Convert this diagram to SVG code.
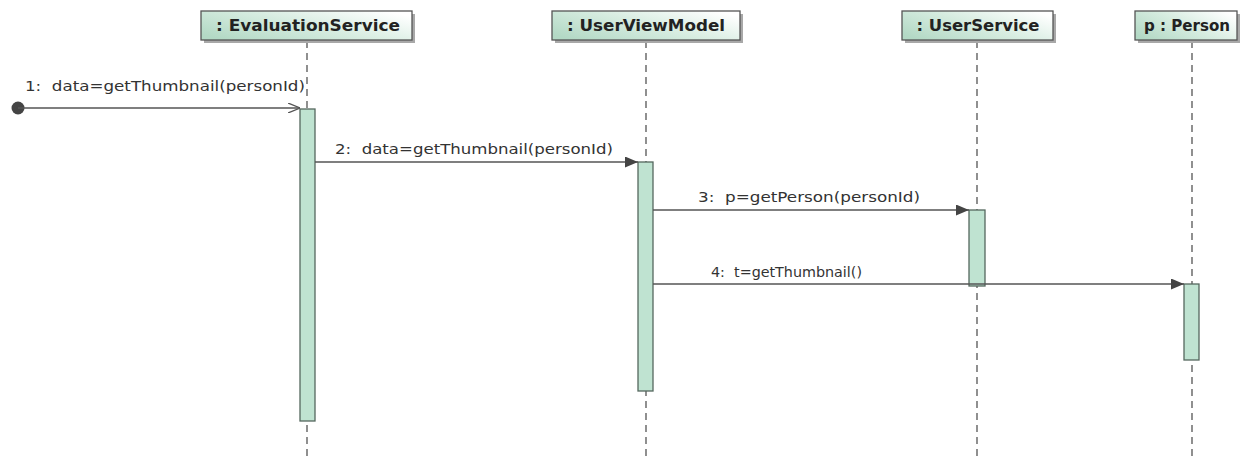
<svg xmlns="http://www.w3.org/2000/svg" width="1254" height="460" viewBox="0 0 1254 460">
  <style>
    .head { stroke: #555; stroke-width: 1.3; fill: url(#headFill); }
    .shadow { fill: #a8a8a8; }
    .headText { font-family: "DejaVu Sans", Verdana, sans-serif; font-weight: bold; font-size: 16px; fill: #222; text-anchor: middle; }
    .life { stroke: #555; stroke-width: 1.3; stroke-dasharray: 7 5; fill: none; }
    .act { fill: #bfe3d1; stroke: #55685e; stroke-width: 1.3; }
    .msg { stroke: #555; stroke-width: 1.4; fill: none; }
    .label { font-family: "DejaVu Sans", Verdana, sans-serif; font-size: 14.5px; fill: #333; }
  </style>
  <defs>
    <linearGradient id="headFill" x1="0" y1="0.8" x2="1" y2="0.2">
      <stop offset="0" stop-color="#b3d9c5"/>
      <stop offset="0.5" stop-color="#d6ece0"/>
      <stop offset="1" stop-color="#ffffff"/>
    </linearGradient>
    <marker id="filled" viewBox="0 0 13 11" refX="13" refY="5.5" markerWidth="13" markerHeight="11" markerUnits="userSpaceOnUse" orient="auto">
      <path d="M0,0 L13,5.5 L0,11 Z" fill="#444"/>
    </marker>
    <marker id="open" viewBox="0 0 12 10" refX="12" refY="5" markerWidth="12" markerHeight="10" markerUnits="userSpaceOnUse" orient="auto">
      <path d="M0,0 L12,5 L0,10" fill="none" stroke="#555" stroke-width="1.3"/>
    </marker>
  </defs>

  <rect width="1254" height="460" fill="#ffffff"/>

  <!-- lifelines -->
  <g id="lifelines">
    <line class="life" x1="307" y1="41" x2="307" y2="460"/>
    <line class="life" x1="646" y1="41" x2="646" y2="460"/>
    <line class="life" x1="977" y1="41" x2="977" y2="460"/>
    <line class="life" x1="1192" y1="41" x2="1192" y2="460"/>
  </g>

  <g id="evaluationService">
    <rect class="shadow" x="204" y="14" width="211" height="29"/>
    <rect class="head" x="201" y="11" width="211" height="29"/>
    <text class="headText" x="308" y="31" textLength="184" lengthAdjust="spacingAndGlyphs">: EvaluationService</text>
    <rect class="act" x="300" y="109" width="15" height="312"/>
  </g>

  <g id="userViewModel">
    <rect class="shadow" x="555" y="14" width="188" height="29"/>
    <rect class="head" x="552" y="11" width="188" height="29"/>
    <text class="headText" x="646" y="31" textLength="158" lengthAdjust="spacingAndGlyphs">: UserViewModel</text>
    <rect class="act" x="638" y="162" width="15" height="229"/>
  </g>

  <g id="userService">
    <rect class="shadow" x="905" y="14" width="151" height="29"/>
    <rect class="head" x="902" y="11" width="151" height="29"/>
    <text class="headText" x="978" y="31" textLength="123" lengthAdjust="spacingAndGlyphs">: UserService</text>
    <rect class="act" x="969" y="210" width="16" height="76"/>
  </g>

  <g id="person">
    <rect class="shadow" x="1138" y="14" width="102" height="29"/>
    <rect class="head" x="1135" y="11" width="102" height="29"/>
    <text class="headText" x="1187" y="31" textLength="86" lengthAdjust="spacingAndGlyphs">p : Person</text>
    <rect class="act" x="1184" y="284" width="15" height="76"/>
  </g>

  <!-- messages -->
  <g id="connectors">
    <circle cx="18" cy="108" r="6.5" fill="#444"/>
    <line class="msg" x1="18" y1="108" x2="300" y2="108" marker-end="url(#open)"/>
    <text class="label" x="25" y="91" textLength="280" lengthAdjust="spacingAndGlyphs" xml:space="preserve">1:  data=getThumbnail(personId)</text>

    <line class="msg" x1="315" y1="162" x2="638" y2="162" marker-end="url(#filled)"/>
    <text class="label" x="335" y="154" textLength="278" lengthAdjust="spacingAndGlyphs" xml:space="preserve">2:  data=getThumbnail(personId)</text>

    <line class="msg" x1="653" y1="210" x2="969" y2="210" marker-end="url(#filled)"/>
    <text class="label" x="698" y="202" textLength="222" lengthAdjust="spacingAndGlyphs" xml:space="preserve">3:  p=getPerson(personId)</text>

    <line class="msg" x1="653" y1="284" x2="1184" y2="284" marker-end="url(#filled)"/>
    <text class="label" x="711" y="277" textLength="151" lengthAdjust="spacingAndGlyphs" xml:space="preserve">4:  t=getThumbnail()</text>
  </g>
</svg>
